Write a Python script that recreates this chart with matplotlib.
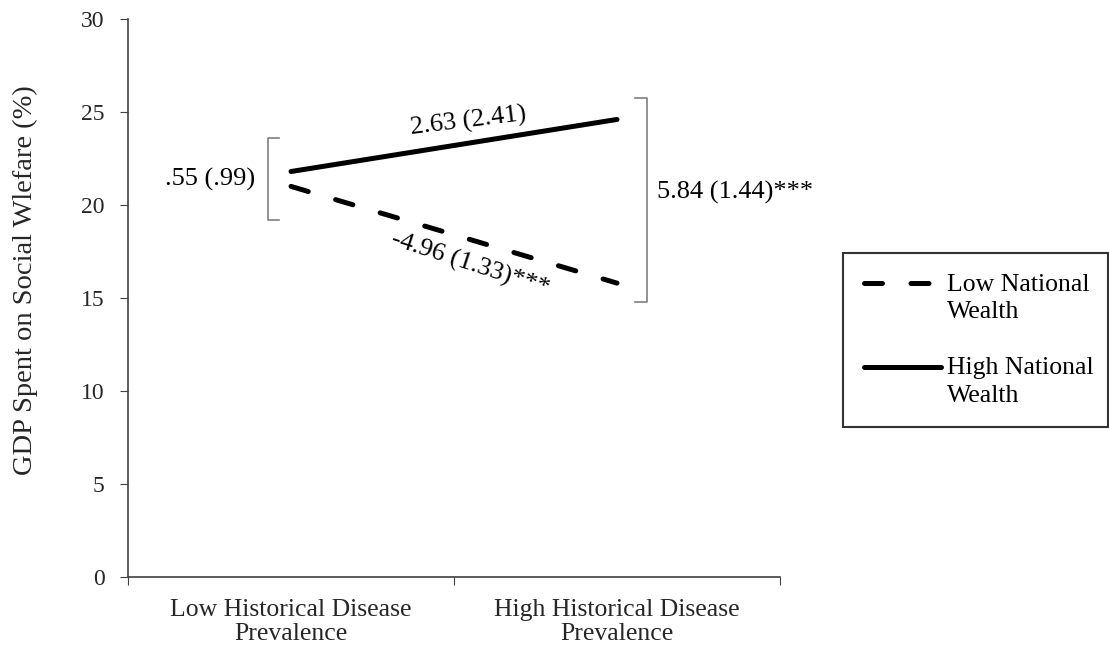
import matplotlib.pyplot as plt
import numpy as np
from matplotlib.legend_handler import HandlerLine2D

plt.rcParams['font.family'] = ['Liberation Serif', 'DejaVu Serif']

categories = ["Low Historical Disease\nPrevalence", "High Historical Disease\nPrevalence"]
low_wealth = [21.0, 15.8]
high_wealth = [21.8, 24.6]
series_labels = ["Low National\nWealth", "High National\nWealth"]
yticks = [0, 5, 10, 15, 20, 25, 30]


class TopLineHandler(HandlerLine2D):
    # put the legend sample next to the first text line, not the middle
    def create_artists(self, legend, orig_handle, xdescent, ydescent, width, height,
                       fontsize, trans):
        arts = super().create_artists(legend, orig_handle, xdescent, ydescent, width,
                                      height, fontsize, trans)
        for a in arts:
            a.set_ydata(np.asarray(a.get_ydata()) + 10.5)
        return arts


fig = plt.figure(figsize=(11.09, 6.49), dpi=100)
ax = fig.add_axes([128 / 1109, 1 - 577 / 649, 652 / 1109, 558 / 649])

x = [0, 1]
l1, = ax.plot(x, low_wealth, color='black', lw=3.6, dashes=(3.6, 5.7),
              dash_capstyle='round', solid_capstyle='round', label=series_labels[0])
l2, = ax.plot(x, high_wealth, color='black', lw=3.6, solid_capstyle='round',
              label=series_labels[1])

ax.set_xlim(-0.5, 1.5)
ax.set_ylim(0, 30)
ax.set_yticks(yticks)
ax.set_xticks([-0.5, 0.5, 1.5])
ax.set_xticklabels([])
ax.set_xticks(x, minor=True)
ax.set_xticklabels(categories, minor=True, fontsize=18.5, linespacing=1.1, color='#262626')
ax.tick_params(axis='x', which='minor', length=0, pad=16)
ax.tick_params(axis='x', which='major', length=6, direction='out', color='#404040')
ax.tick_params(axis='y', length=6, direction='out', color='#404040', labelsize=17,
               pad=11, labelcolor='#262626')
for s in ['top', 'right']:
    ax.spines[s].set_visible(False)
for s in ['left', 'bottom']:
    ax.spines[s].set_color('#404040')
    ax.spines[s].set_linewidth(1.2)
ax.set_ylabel("GDP Spent on Social Wlefare (%)", fontsize=20.5, color='#262626')
ax.yaxis.set_label_coords(-0.138, 0.532)

# brackets
gray = '#7f7f7f'
ax.plot([-0.037, -0.071, -0.071, -0.037], [23.6, 23.6, 19.2, 19.2], color=gray, lw=1.2)
ax.plot([1.055, 1.092, 1.092, 1.055], [25.75, 25.75, 14.8, 14.8], color=gray, lw=1.2)

# annotations
ax.text(-0.248, 21.4, ".55 (.99)", fontsize=19, ha='center', va='center')
ax.text(0.545, 24.5, "2.63 (2.41)", fontsize=19, ha='center', va='center', rotation=7)
ax.text(0.55, 16.8, "-4.96 (1.33)***", fontsize=19, ha='center', va='center', rotation=-18)
ax.text(1.123, 20.7, "5.84 (1.44)***", fontsize=19, ha='left', va='center')

leg = fig.legend(handles=[l1, l2], loc='upper left',
                 bbox_to_anchor=(843 / 1109, 1 - 253 / 649, 265 / 1109, 0), mode='expand',
                 fontsize=18.5, frameon=True, fancybox=False, handlelength=3.0,
                 handletextpad=0.25, labelspacing=1.3, borderpad=0.8, borderaxespad=0,
                 handler_map={l1: TopLineHandler(), l2: TopLineHandler()})
leg.get_frame().set_edgecolor('black')
leg.get_frame().set_linewidth(1.5)
for t in leg.get_texts():
    t.set_linespacing(1.34)

fig.savefig("out.png", dpi=100)
